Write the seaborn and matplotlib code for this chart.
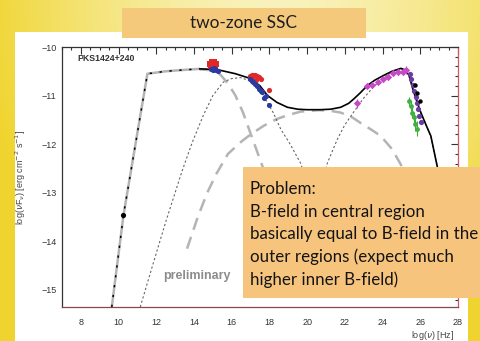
import numpy as np
import matplotlib
matplotlib.use("Agg")
import matplotlib.pyplot as plt
from matplotlib.patches import Rectangle
from matplotlib.ticker import MultipleLocator
import seaborn as sns

# ---- model curves: log(nu) [Hz] vs log(nu F_nu) [erg cm^-2 s^-1] ----
total_x = [9.64, 10.26, 10.97, 11.53, 12.5, 13.5, 14.3, 15.0, 15.4, 16.2, 17.0, 17.5,
           17.9, 18.4, 18.95, 19.5, 20.0, 20.7, 21.25, 21.78, 22.2, 22.47, 22.8, 23.2,
           23.6, 24.08, 24.5, 24.97, 25.2, 25.4, 25.6, 25.8, 26.03, 26.3, 26.56, 26.9,
           27.2, 27.5]
total_y = [-15.35, -13.46, -11.83, -10.55, -10.50, -10.47, -10.45, -10.46, -10.48, -10.55,
           -10.65, -10.80, -11.00, -11.14, -11.24, -11.28, -11.29, -11.29, -11.28, -11.24,
           -11.16, -11.07, -10.95, -10.79, -10.68, -10.58, -10.50, -10.44, -10.47, -10.58,
           -10.86, -11.10, -11.35, -11.60, -11.83, -12.46, -13.20, -14.00]

sync_out_x = [14.3, 15.0, 15.4, 15.8, 16.2, 16.6, 17.0, 17.6, 18.2, 18.8]
sync_out_y = [-10.46, -10.48, -10.57, -10.75, -11.00, -11.35, -11.78, -12.42, -13.10, -13.90]

sync_in_x = [11.15, 11.8, 12.5, 13.36, 13.9, 14.5, 15.0, 15.56, 16.0, 16.46, 17.0, 17.6,
             18.2, 18.6, 19.1, 19.65, 20.2, 20.8]
sync_in_y = [-15.35, -14.50, -13.60, -12.56, -11.97, -11.40, -11.00, -10.72, -10.65, -10.63,
             -10.70, -10.95, -11.35, -11.69, -12.00, -12.39, -13.00, -13.80]

ssc_out_x = [13.63, 14.2, 14.7, 15.2, 15.8, 16.5, 17.0, 17.7, 18.4, 19.0, 19.65, 20.6,
             21.2, 21.78, 22.4, 22.9, 23.4, 23.9, 24.5, 24.97, 25.5, 26.0, 26.5]
ssc_out_y = [-14.15, -13.50, -13.00, -12.60, -12.20, -11.95, -11.80, -11.62, -11.48, -11.40,
             -11.33, -11.30, -11.31, -11.35, -11.45, -11.58, -11.70, -11.83, -12.10, -12.42,
             -12.90, -13.40, -14.00]

ssc_in_x = [20.5, 21.07, 21.6, 22.0, 22.5, 23.0, 23.5, 24.0, 24.5, 25.0, 25.4, 25.6,
            25.8, 26.03, 26.3, 26.56, 26.9, 27.3]
ssc_in_y = [-13.40, -12.39, -11.90, -11.60, -11.32, -11.05, -10.83, -10.64, -10.52, -10.46,
            -10.55, -10.80, -11.05, -11.35, -11.60, -11.85, -12.46, -13.30]

# ---- measurements ----
radio_x = [10.26]
radio_y = [-13.46]

opt_red_x = [14.85, 14.95, 15.05, 15.15, 14.9, 15.1]
opt_red_y = [-10.34, -10.30, -10.31, -10.35, -10.39, -10.40]
opt_blue_x = [14.9, 15.0, 15.15, 15.25, 15.05]
opt_blue_y = [-10.45, -10.47, -10.48, -10.50, -10.44]

xray_red_x = [16.95, 17.05, 17.15, 17.25, 17.35, 17.45, 17.55, 17.1, 17.3, 18.0]
xray_red_y = [-10.60, -10.58, -10.57, -10.58, -10.60, -10.62, -10.66, -10.64, -10.67, -10.88]
xray_blue_x = [16.95, 17.05, 17.15, 17.25, 17.35, 17.45, 17.55, 17.62, 17.71, 17.8, 17.97]
xray_blue_y = [-10.66, -10.69, -10.73, -10.77, -10.81, -10.86, -10.90, -10.93, -11.05, -11.00, -11.19]

lat_x = [22.67, 23.2, 23.45, 23.74, 24.0, 24.27, 24.54, 24.8, 25.07, 25.24]
lat_y = [-11.16, -10.81, -10.78, -10.71, -10.66, -10.61, -10.54, -10.52, -10.51, -10.47]
lat_err = [0.10, 0.06, 0.05, 0.05, 0.05, 0.05, 0.05, 0.06, 0.07, 0.08]

vhe_purple_x = [25.45, 25.52, 25.6, 25.68, 25.75, 25.82, 25.88, 25.95, 26.02]
vhe_purple_y = [-10.55, -10.65, -10.78, -10.90, -11.02, -11.15, -11.28, -11.42, -11.55]
vhe_green_x = [25.42, 25.5, 25.58, 25.66, 25.74, 25.82]
vhe_green_y = [-11.12, -11.22, -11.35, -11.45, -11.58, -11.68]
vhe_green_err = [0.10, 0.10, 0.12, 0.12, 0.14, 0.15]
vhe_black_x = [25.72, 25.85, 25.98]
vhe_black_y = [-10.78, -10.95, -11.12]

x_ticks = [8, 10, 12, 14, 16, 18, 20, 22, 24, 26, 28]
y_ticks = [-15, -14, -13, -12, -11, -10]

note_lines = ["Problem:",
              "B-field in central region",
              "basically equal to B-field in the",
              "outer regions (expect much",
              "higher inner B-field)"]

sns.set_theme(style="white")
plt.rcParams["font.family"] = ["Liberation Sans", "DejaVu Sans"]

W, H = 481, 341
fig = plt.figure(figsize=(W / 100, H / 100), dpi=100)

# slide background: pale yellow in the upper middle, saturated toward the edges
bg = fig.add_axes([0, 0, 1, 1], zorder=-10)
yy, xx = np.mgrid[0:1:220j, 0:1:320j]
t = np.clip(np.sqrt(((xx - 0.58) / 0.62) ** 2 + (yy / 1.05) ** 2), 0, 1) ** 1.6
light = np.array([0.976, 0.948, 0.735])
sat = np.array([0.941, 0.835, 0.185])
img = light[None, None, :] * (1 - t[..., None]) + sat[None, None, :] * t[..., None]
bg.imshow(img, extent=[0, 1, 0, 1], aspect="auto", origin="upper")
bg.axis("off")

# white plot panel
fig.add_artist(Rectangle((15 / W, 0), (468 - 15) / W, (H - 32) / H,
                         transform=fig.transFigure, facecolor="white",
                         edgecolor="none", zorder=-5))

ax = fig.add_axes([62 / W, (H - 307) / H, 396 / W, 260 / H])
ax.set_facecolor("white")

gray = "#b4b4b4"
dot = "#666666"

# low-frequency part: grey synchrotron branch with the black dashed total on top
low = [i for i, v in enumerate(total_x) if v <= 14.3]
lx = [total_x[i] for i in low]
ly = [total_y[i] for i in low]
sns.lineplot(x=lx, y=ly, ax=ax, color=gray, lw=1.8, estimator=None, sort=False)
sns.lineplot(x=lx, y=ly, ax=ax, color="black", lw=1.1, estimator=None, sort=False,
             linestyle=(0, (1.5, 5)))

sns.lineplot(x=sync_out_x, y=sync_out_y, ax=ax, color=gray, lw=1.8, estimator=None,
             sort=False, linestyle=(0, (5, 3)))
sns.lineplot(x=ssc_out_x, y=ssc_out_y, ax=ax, color=gray, lw=1.8, estimator=None,
             sort=False, linestyle=(0, (5, 3)))
sns.lineplot(x=sync_in_x, y=sync_in_y, ax=ax, color=dot, lw=0.8, estimator=None,
             sort=False, linestyle=(0, (2, 2)))
sns.lineplot(x=ssc_in_x, y=ssc_in_y, ax=ax, color=dot, lw=0.8, estimator=None,
             sort=False, linestyle=(0, (2, 2)))

hi = [i for i, v in enumerate(total_x) if v >= 14.3]
sns.lineplot(x=[total_x[i] for i in hi], y=[total_y[i] for i in hi], ax=ax,
             color="black", lw=1.2, estimator=None, sort=False)

# data points
ax.errorbar(lat_x, lat_y, yerr=lat_err, fmt="none", ecolor="#c050c0", elinewidth=0.8)
ax.errorbar(vhe_green_x, vhe_green_y, yerr=vhe_green_err, fmt="none", ecolor="#40a840",
            elinewidth=0.8)
kw = dict(ax=ax, linewidth=0, legend=False, zorder=4)
sns.scatterplot(x=radio_x, y=radio_y, color="black", s=14, **kw)
sns.scatterplot(x=opt_red_x, y=opt_red_y, color="#e02828", s=16, marker="s", **kw)
sns.scatterplot(x=opt_blue_x, y=opt_blue_y, color="#2a3aa0", s=14, **kw)
sns.scatterplot(x=xray_red_x, y=xray_red_y, color="#e02828", s=14, **kw)
sns.scatterplot(x=xray_blue_x, y=xray_blue_y, color="#2a3aa0", s=14, **kw)
sns.scatterplot(x=lat_x, y=lat_y, color="#c848c8", s=14, marker="D", **kw)
sns.scatterplot(x=vhe_green_x, y=vhe_green_y, color="#40b040", s=12, **kw)
sns.scatterplot(x=vhe_purple_x, y=vhe_purple_y, color="#6a3ca0", s=14, **kw)
sns.scatterplot(x=vhe_black_x, y=vhe_black_y, color="black", s=10, **kw)

ax.set_xlim(7, 28)
ax.set_ylim(-15.35, -10)
ax.set_xticks(x_ticks)
ax.set_yticks(y_ticks)
ax.xaxis.set_minor_locator(MultipleLocator(0.5))
ax.yaxis.set_minor_locator(MultipleLocator(0.2))
ax.tick_params(which="both", direction="in", top=True, right=True, colors="#333333",
               labelsize=6.5, width=0.8)
ax.tick_params(which="major", length=5)
ax.tick_params(which="minor", length=2.5)
ax.tick_params(axis="x", pad=8)
ax.tick_params(axis="y", pad=4)
for s in ax.spines.values():
    s.set_color("#333333")
    s.set_linewidth(0.9)
ax.spines["right"].set_color("#cc5a66")
ax.spines["bottom"].set_color("#8a4650")

ax.set_ylabel(r"log($\nu$F$_\nu$) [erg cm$^{-2}$ s$^{-1}$]", fontsize=6.5, color="#444444")
ax.yaxis.set_label_coords((28 - 62) / 396, 0.5)
ax.set_xlabel(r"log($\nu$) [Hz]", fontsize=6.5, color="#444444")
ax.xaxis.set_label_coords((432 - 62) / 396, -(329 - 307) / 260)

ax.text(0.04, 0.955, "PKS1424+240", transform=ax.transAxes, fontsize=6.3,
        fontweight="bold", color="#333333", va="center", ha="left")
ax.text(0.34, 0.118, "preliminary", transform=ax.transAxes, fontsize=9,
        fontweight="bold", color="#8c8c8c", va="center", ha="center")

# title tab
fig.add_artist(Rectangle((122 / W, (H - 38) / H), 244 / W, 30 / H,
                         transform=fig.transFigure, facecolor="#f5c97c",
                         edgecolor="none", zorder=5))
fig.text(244 / W, 1 - 23 / H, "two-zone SSC", ha="center", va="center",
         fontsize=12.4, family=["Lato", "DejaVu Sans"], color="#1e1e1e", zorder=6)

# note box
fig.add_artist(Rectangle((243 / W, (H - 298) / H), (W - 243) / W, 131 / H,
                         transform=fig.transFigure, facecolor="#f7c47e",
                         edgecolor="none", zorder=5))
for line, yc in zip(note_lines, [189, 212, 234.5, 257, 279.5]):
    fig.text(250 / W, 1 - yc / H, line, ha="left", va="center", fontsize=12.2,
             family=["Lato", "DejaVu Sans"], color="#141414", zorder=6)

fig.savefig("out.png", dpi=100)
